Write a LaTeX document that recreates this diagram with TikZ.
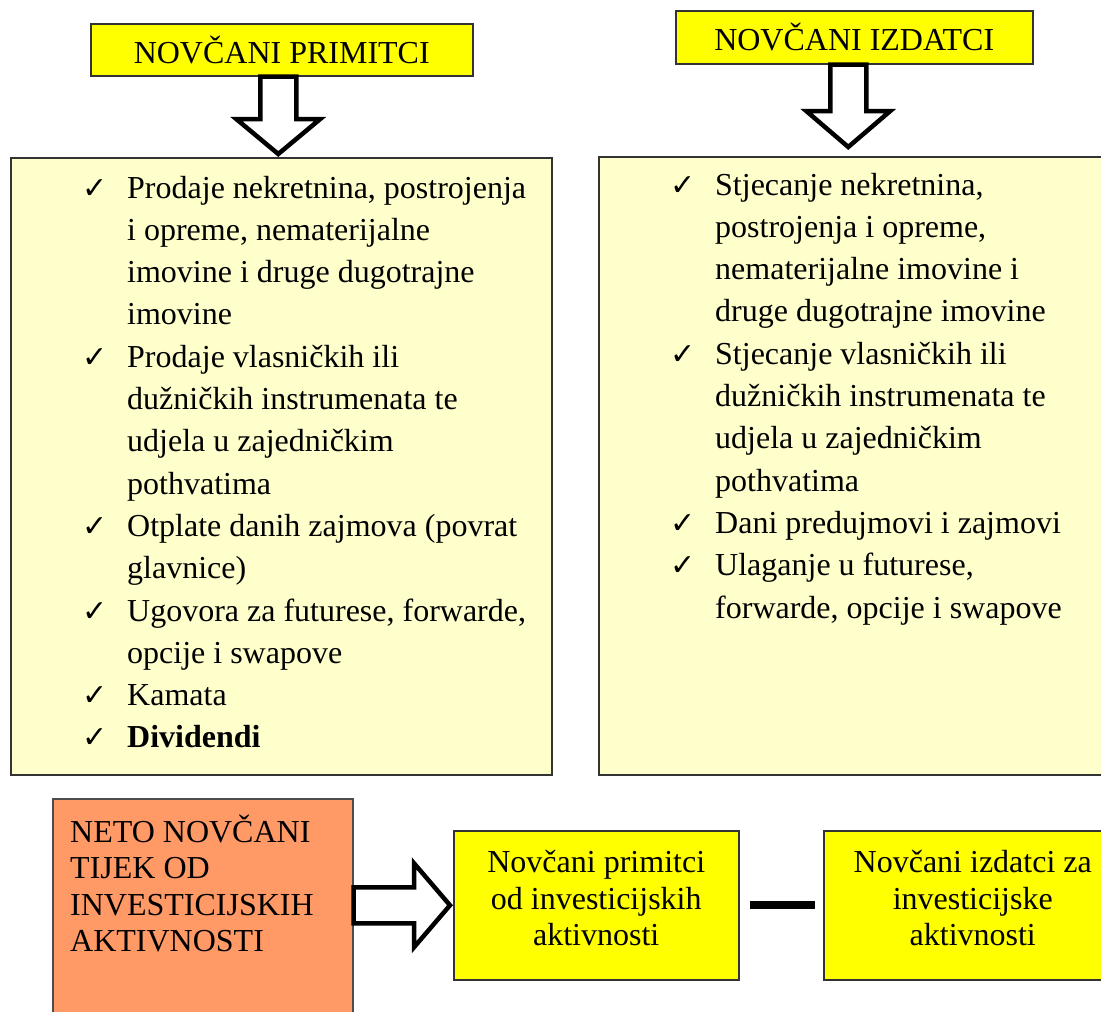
\documentclass[tikz,border=0pt]{standalone}
\usepackage{fontspec}
\setmainfont{Liberation Serif}
\newfontfamily\ckfont{DejaVu Sans}
\usetikzlibrary{calc,positioning}

\definecolor{titleyellow}{HTML}{FFFF00}
\definecolor{listyellow}{HTML}{FFFFCC}
\definecolor{netoorange}{HTML}{FF9966}

% kvacica ispred stavke
\newcommand{\ck}{\makebox[45pt][l]{\ckfont\fontsize{30}{30}\selectfont ✓}}

\tikzset{
  titlebox/.style={draw=black!80, line width=1.5pt, fill=titleyellow, anchor=north west, inner sep=0pt, font=\fontsize{32}{37}\selectfont},
  listbox/.style={draw=black!80, line width=1.5pt, fill=listyellow, anchor=north west},
  listtext/.style={anchor=base west, inner sep=0pt, font=\fontsize{32}{42.3}\selectfont},
  netobox/.style={draw=black!70, line width=1.5pt, fill=netoorange, anchor=north west},
  smallbox/.style={draw=black!80, line width=1.5pt, fill=titleyellow, anchor=north west},
  boxtext/.style={inner sep=0pt, font=\fontsize{32}{36.5}\selectfont},
  blockarrow/.style={draw=black, line width=4.5pt, fill=white, line join=miter},
  minusbar/.style={line width=8pt}
}

\begin{document}
\begin{tikzpicture}[x=1pt, y=-1pt]
    \useasboundingbox (0,0) rectangle (1101,1012);
    \clip (0,0) rectangle (1101,1012);

    % naslovi
    \node[titlebox, minimum width=382, minimum height=52] (tp) at (90,23) {NOVČANI PRIMITCI};
    \node[titlebox, minimum width=357, minimum height=53] (ti) at (675,10) {NOVČANI IZDATCI};

    % okviri s popisima
    \node[listbox, minimum width=541, minimum height=617] (lb) at (10,157) {};
    \node[listbox, minimum width=520, minimum height=618] (rb) at (598,156) {};

    \node[listtext] (ltxt) at (82,198) {\begin{tabular}[t]{@{}l@{}l@{}}
        \ck & Prodaje nekretnina, postrojenja\\
            & i opreme, nematerijalne\\
            & imovine i druge dugotrajne\\
            & imovine\\
        \ck & Prodaje vlasničkih ili\\
            & dužničkih instrumenata te\\
            & udjela u zajedničkim\\
            & pothvatima\\
        \ck & Otplate danih zajmova (povrat\\
            & glavnice)\\
        \ck & Ugovora za futurese, forwarde,\\
            & opcije i swapove\\
        \ck & Kamata\\
        \ck & \textbf{Dividendi}
    \end{tabular}};

    \node[listtext] (rtxt) at (670,195) {\begin{tabular}[t]{@{}l@{}l@{}}
        \ck & Stjecanje nekretnina,\\
            & postrojenja i opreme,\\
            & nematerijalne imovine i\\
            & druge dugotrajne imovine\\
        \ck & Stjecanje vlasničkih ili\\
            & dužničkih instrumenata te\\
            & udjela u zajedničkim\\
            & pothvatima\\
        \ck & Dani predujmovi i zajmovi\\
        \ck & Ulaganje u futurese,\\
            & forwarde, opcije i swapove
    \end{tabular}};

    % strelice prema dolje
    \coordinate (a1top) at ([xshift=-3.5pt]tp.south);
    \coordinate (a1tip) at ([yshift=3pt]a1top |- lb.north);
    \draw[blockarrow] ($(a1top)+(-18,0)$) -- ($(a1tip)+(-18,-35)$) -- ($(a1tip)+(-42,-35)$) -- (a1tip)
        -- ($(a1tip)+(42,-35)$) -- ($(a1tip)+(18,-35)$) -- ($(a1top)+(18,0)$) -- cycle;

    \coordinate (a2top) at ([xshift=-6pt]ti.south);
    \coordinate (a2tip) at ([yshift=9pt]a2top |- rb.north);
    \draw[blockarrow] ($(a2top)+(-18,0)$) -- ($(a2tip)+(-18,-36)$) -- ($(a2tip)+(-42,-36)$) -- (a2tip)
        -- ($(a2tip)+(42,-36)$) -- ($(a2tip)+(18,-36)$) -- ($(a2top)+(18,0)$) -- cycle;

    % donji red
    \node[netobox, minimum width=300, minimum height=240] (neto) at (52,798) {};
    \node[boxtext, anchor=base west] (netotxt) at (70,842) {\begin{tabular}[t]{@{}l@{}}
        NETO NOVČANI\\ TIJEK OD\\ INVESTICIJSKIH\\ AKTIVNOSTI
    \end{tabular}};

    \node[smallbox, minimum width=285, minimum height=149] (prim) at (453,830) {};
    \node[boxtext] (primtxt) at ([yshift=3.5pt]prim.center) {\begin{tabular}{@{}c@{}}
        Novčani primitci\\ od investicijskih\\ aktivnosti
    \end{tabular}};

    \node[smallbox, minimum width=298, minimum height=149] (izd) at (823,830) {};
    \node[boxtext] (izdtxt) at ([yshift=3.5pt]izd.center) {\begin{tabular}{@{}c@{}}
        Novčani izdatci za\\ investicijske\\ aktivnosti
    \end{tabular}};

    % strelica i minus
    \coordinate (a3s) at (neto.east |- prim.west);
    \coordinate (a3tip) at ([xshift=-3pt]prim.west);
    \draw[blockarrow] ($(a3s)+(0,-18)$) -- ($(a3tip)+(-36,-18)$) -- ($(a3tip)+(-36,-42)$) -- (a3tip)
        -- ($(a3tip)+(-36,42)$) -- ($(a3tip)+(-36,18)$) -- ($(a3s)+(0,18)$) -- cycle;

    \draw[minusbar] ([xshift=10pt]prim.east) -- ([xshift=-8pt]izd.west);
\end{tikzpicture}
\end{document}
